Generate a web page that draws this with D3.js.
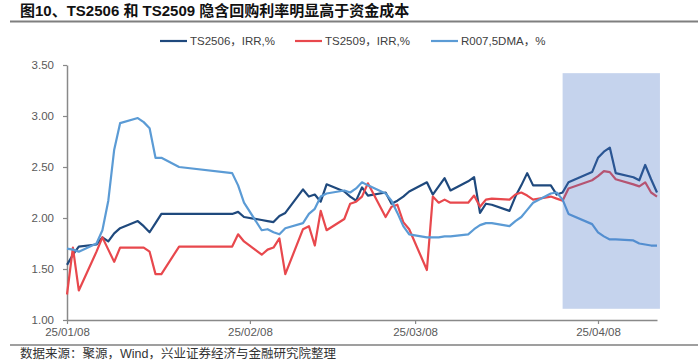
<!DOCTYPE html>
<html>
<head>
<meta charset="utf-8">
<script src="https://cdn.jsdelivr.net/npm/d3@7"></script>
<style>
  body { margin: 0; background: #fff; }
  svg { display: block; }
</style>
</head>
<body>
<svg class="chart" width="700" height="363"></svg>
<script>

// trading days, Jan 8 - Apr 18 2025
var dates = [
  "2025-01-08","2025-01-09","2025-01-10","2025-01-13","2025-01-14","2025-01-15","2025-01-16","2025-01-17",
  "2025-01-20","2025-01-21","2025-01-22","2025-01-23","2025-01-24","2025-01-27",
  "2025-02-05","2025-02-06","2025-02-07","2025-02-10","2025-02-11","2025-02-12","2025-02-13","2025-02-14",
  "2025-02-17","2025-02-18","2025-02-19","2025-02-20","2025-02-21","2025-02-24","2025-02-25","2025-02-26",
  "2025-02-27","2025-02-28",
  "2025-03-03","2025-03-04","2025-03-05","2025-03-06","2025-03-07","2025-03-10","2025-03-11","2025-03-12",
  "2025-03-13","2025-03-14","2025-03-17","2025-03-18","2025-03-19","2025-03-20","2025-03-21","2025-03-24",
  "2025-03-25","2025-03-26","2025-03-27","2025-03-28","2025-03-31",
  "2025-04-01","2025-04-02","2025-04-03","2025-04-07","2025-04-08","2025-04-09","2025-04-10","2025-04-11",
  "2025-04-14","2025-04-15","2025-04-16","2025-04-17","2025-04-18"
];

var ts2506 = [
  1.54,1.64,1.72,1.74,1.81,1.77,1.85,1.90,1.97,1.92,1.86,1.95,2.04,2.04,
  2.04,2.06,2.01,1.98,1.97,1.96,2.02,2.05,2.28,2.21,2.23,2.16,2.33,2.26,2.21,2.17,2.30,2.22,
  2.25,2.14,2.17,2.21,2.26,2.35,2.23,2.31,2.39,2.27,2.36,2.40,2.05,2.14,2.13,2.07,2.21,2.32,2.44,2.32,2.32,
  2.23,2.25,2.35,2.45,2.59,2.65,2.69,2.44,2.40,2.37,2.52,2.38,2.25
];

var ts2509 = [
  1.25,1.71,1.29,1.67,1.81,1.69,1.57,1.71,1.71,1.71,1.67,1.45,1.45,1.72,
  1.72,1.84,1.77,1.64,1.69,1.71,1.80,1.45,1.89,1.92,1.73,2.07,1.88,1.99,2.14,2.16,2.21,2.34,
  2.01,2.11,2.13,1.96,1.89,1.49,2.21,2.15,2.18,2.15,2.15,2.22,2.11,2.18,2.19,2.18,2.23,2.25,2.22,2.18,2.21,
  2.19,2.17,2.29,2.37,2.41,2.46,2.45,2.38,2.33,2.31,2.35,2.25,2.21
];

var r007 = [
  1.70,1.69,1.67,1.75,1.88,2.17,2.67,2.93,2.98,2.94,2.88,2.59,2.59,2.50,
  2.44,2.32,2.15,1.88,1.89,1.86,1.84,1.90,1.95,2.04,2.09,2.21,2.24,2.27,2.25,2.29,2.35,2.32,
  2.24,2.17,2.05,1.92,1.84,1.81,1.81,1.81,1.82,1.82,1.84,1.89,1.93,1.95,1.95,1.92,1.97,2.01,2.08,2.15,2.24,
  2.25,2.18,2.04,1.94,1.86,1.82,1.79,1.79,1.78,1.75,1.74,1.73,1.73
];

var seriesNames = ["TS2506，IRR,%", "TS2509，IRR,%", "R007,5DMA，%"];
var xTicks = ["2025-01-08", "2025-02-08", "2025-03-08", "2025-04-08"];
var yTicks = [1.00, 1.50, 2.00, 2.50, 3.00, 3.50];

// highlighted window
var shadeDates = ["2025-04-02", "2025-04-18T12:00"];
var shadeValues = [1.11, 3.42];

var svg = d3.select(".chart"),
    font = "'Liberation Sans', Arial, 'Noto Sans CJK SC', sans-serif",
    cjk = "'Liberation Sans', Arial, 'Noto Sans CJK SC', sans-serif",
    colors = ["#1f497d", "#e8484d", "#5b9bd5"],
    axisColor = "#898989";

var parse = function(s) { return s.length > 10 ? d3.isoParse(s + ":00") : d3.timeParse("%Y-%m-%d")(s); };

var x = d3.scaleTime()
    .domain([parse("2025-01-08"), parse("2025-04-18")])
    .range([67, 657]);

var y = d3.scaleLinear()
    .domain([1, 3.5])
    .range([320, 65]);

// title + rule
svg.append("text")
    .attr("x", 20).attr("y", 15.5)
    .attr("font-family", cjk)
    .attr("font-size", 15)
    .attr("font-weight", "bold")
    .attr("fill", "#111")
    .text("图10、TS2506 和 TS2509 隐含回购利率明显高于资金成本");

svg.append("line")
    .attr("x1", 10).attr("x2", 698)
    .attr("y1", 21.5).attr("y2", 21.5)
    .attr("stroke", "#7f7f7f").attr("stroke-width", 2);

// legend
var legendX = [160, 295, 431];
var legend = svg.selectAll(".legend")
    .data(seriesNames)
    .enter().append("g")
    .attr("transform", function(d, i) { return "translate(" + legendX[i] + ",41)"; });

legend.append("line")
    .attr("x1", 0).attr("x2", 27)
    .attr("stroke", function(d, i) { return colors[i]; })
    .attr("stroke-width", 2.2);

legend.append("text")
    .attr("x", 30).attr("dy", "0.35em")
    .attr("font-family", cjk)
    .attr("font-size", 11.5)
    .attr("fill", "#404040")
    .text(function(d) { return d; });

// axes
var xAxis = svg.append("g")
    .attr("transform", "translate(0,320)")
    .call(d3.axisBottom(x)
        .tickValues(xTicks.map(parse))
        .tickFormat(d3.timeFormat("%y/%m/%d"))
        .tickSize(4)
        .tickSizeOuter(0)
        .tickPadding(4));

var yAxis = svg.append("g")
    .attr("transform", "translate(67,0)")
    .call(d3.axisLeft(y)
        .tickValues(yTicks)
        .tickFormat(d3.format(".2f"))
        .tickSize(4)
        .tickSizeOuter(0)
        .tickPadding(9));

[xAxis, yAxis].forEach(function(g) {
  g.select(".domain").attr("stroke", axisColor).attr("stroke-width", 1.5);
  g.selectAll(".tick line").attr("stroke", axisColor).attr("stroke-width", 1.2);
  g.selectAll(".tick text")
      .attr("fill", "#595959")
      .attr("font-family", font)
      .attr("font-size", 11.5);
});

// lines
var rows = [ts2506, ts2509, r007].map(function(vals) {
  return vals.map(function(v, i) { return { date: parse(dates[i]), value: v }; });
});

var line = d3.line()
    .x(function(d) { return x(d.date); })
    .y(function(d) { return y(d.value); });

svg.selectAll(".series")
    .data(rows)
    .enter().append("path")
    .attr("fill", "none")
    .attr("stroke", function(d, i) { return colors[i]; })
    .attr("stroke-width", 2.2)
    .attr("stroke-linejoin", "round")
    .attr("d", line);

// shaded window drawn over the lines
svg.append("rect")
    .attr("x", x(parse(shadeDates[0])))
    .attr("width", x(parse(shadeDates[1])) - x(parse(shadeDates[0])))
    .attr("y", y(shadeValues[1]))
    .attr("height", y(shadeValues[0]) - y(shadeValues[1]))
    .attr("fill", "#4472c4")
    .attr("fill-opacity", 0.31);

// source
svg.append("line")
    .attr("x1", 10).attr("x2", 698)
    .attr("y1", 345).attr("y2", 345)
    .attr("stroke", "#7f7f7f").attr("stroke-width", 1.5);

svg.append("text")
    .attr("x", 20).attr("y", 358)
    .attr("font-family", cjk)
    .attr("font-size", 12.5)
    .attr("fill", "#333")
    .text("数据来源：聚源，Wind，兴业证券经济与金融研究院整理");

</script>
</body>
</html>
